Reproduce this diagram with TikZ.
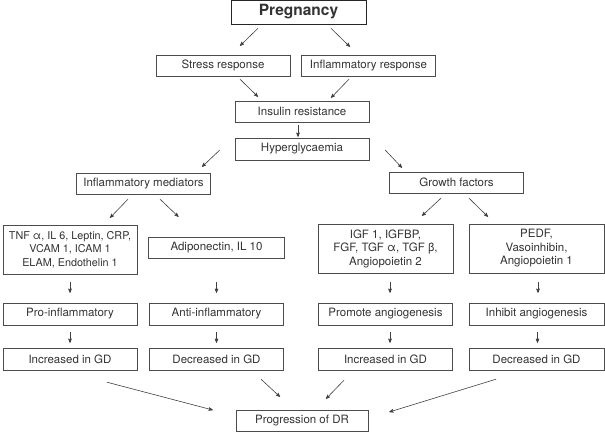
\documentclass[tikz,border=0pt]{standalone}
\usepackage{fontspec}
\setmainfont{TeX Gyre Heros}
\usetikzlibrary{arrows}

\begin{document}
\begin{tikzpicture}[->,>=stealth',semithick,x=1pt,y=-1pt,
                    every node/.style={font=\fontsize{11.5}{13.5}\selectfont,text=black!80},
                    every edge/.style={draw,black!75},
                    box/.style={draw=black!70,thin,inner sep=0pt,align=center,
                                minimum width=134pt,minimum height=21pt},
                    tallbox/.style={box,minimum height=49pt}]
  \useasboundingbox (0,0) rectangle (605,432);

  \path (298.5, 12.0) node [box,draw=black!85,semithick,minimum width=135pt,minimum height=24pt,
                            font=\fontsize{15.5}{18}\selectfont\bfseries] (preg) {Pregnancy}
        (223.0, 65.5) node [box] (stress)   {Stress response}
        (368.5, 65.5) node [box] (inflresp) {Inflammatory response}
        (302.0,111.5) node [box] (insulin)  {Insulin resistance}
        (302.0,149.0) node [box,minimum height=22pt] (hyper) {Hyperglycaemia}
        (143.5,183.5) node [box] (infmed)   {Inflammatory mediators}
        (456.5,182.5) node [box] (growth)   {Growth factors};

  \path ( 70.0,249.5) node [tallbox,font=\fontsize{10.8}{13.5}\selectfont] (tnf)
                           {TNF α, IL 6, Leptin, CRP,\\VCAM 1, ICAM 1\\ELAM, Endothelin 1}
        (216.5,247.5) node [box,minimum width=136pt] (adipo) {Adiponectin, IL 10}
        (385.5,248.5) node [tallbox,minimum width=135pt] (igf)  {IGF 1, IGFBP,\\FGF, TGF α, TGF β,\\Angiopoietin 2}
        (536.5,248.5) node [tallbox,minimum width=135pt] (pedf) {PEDF,\\Vasoinhibin,\\Angiopoietin 1};

  \path ( 70.0,314.0) node [box,minimum height=22pt] (pro)     {Pro-inflammatory}
        (216.5,314.0) node [box,minimum height=22pt] (anti)    {Anti-inflammatory}
        (385.5,314.0) node [box,minimum height=22pt] (promote) {Promote angiogenesis}
        (536.5,314.0) node [box,minimum height=22pt,minimum width=135pt] (inhibit) {Inhibit angiogenesis}
        ( 70.0,359.0) node [box,minimum height=22pt] (inc1) {Increased in GD}
        (216.5,359.0) node [box,minimum height=22pt] (dec1) {Decreased in GD}
        (385.5,359.0) node [box,minimum height=22pt] (inc2) {Increased in GD}
        (536.5,359.0) node [box,minimum height=22pt,minimum width=135pt] (dec2) {Decreased in GD}
        (302.0,420.5) node [box,minimum width=132pt] (prog) {Progression of DR};

  \path ([shift={(-40.5,4)}]preg.south)     edge ([shift={(17,-9)}]stress.north)
        ([shift={(32.5,4)}]preg.south)      edge ([shift={(-18.5,-8)}]inflresp.north)
        ([shift={(17,3)}]stress.south)      edge ([shift={(-44,-4)}]insulin.north)
        ([shift={(-19.5,3)}]inflresp.south) edge ([shift={(29,-3)}]insulin.north)
        ([shift={(-4,3)}]insulin.south)     edge ([shift={(-4,-1)}]hyper.north)
        ([shift={(-15,1)}]hyper.west)       edge ([shift={(58.5,-6)}]infmed.north)
        ([shift={(16,1)}]hyper.east)        edge ([shift={(-54.5,-4)}]growth.north)

        ([shift={(-15.5,5)}]infmed.south)   edge ([shift={(40,-7)}]tnf.north)
        ([shift={(16.5,5)}]infmed.south)    edge ([shift={(-38,-20)}]adipo.north)
        ([shift={(-15.5,5)}]growth.south)   edge ([shift={(36.5,-8)}]igf.north)
        ([shift={(12.5,5)}]growth.south)    edge ([shift={(-48.5,-7)}]pedf.north)

        ([shift={(0,8)}]tnf.south)          edge ([shift={(0,-10)}]pro.north)
        ([shift={(0,24)}]adipo.south)       edge ([shift={(0,-10)}]anti.north)
        ([shift={(4.5,9)}]igf.south)        edge ([shift={(4.5,-10)}]promote.north)
        ([shift={(1.5,9)}]pedf.south)       edge ([shift={(1.5,-10)}]inhibit.north)

        ([shift={(0,7)}]pro.south)          edge ([shift={(0,-5)}]inc1.north)
        ([shift={(0,7)}]anti.south)         edge ([shift={(0,-5)}]dec1.north)
        ([shift={(4.5,7)}]promote.south)    edge ([shift={(4.5,-5)}]inc2.north)
        ([shift={(1,7)}]inhibit.south)      edge ([shift={(1,-5)}]dec2.north)

        ([shift={(37,12)}]inc1.south)       edge ([shift={(-23,-10.5)}]prog.west)
        ([shift={(44.5,9)}]dec1.south)      edge ([shift={(-22,-13)}]prog.north)
        ([shift={(-41.5,10)}]inc2.south)    edge ([shift={(24,-11)}]prog.north)
        ([shift={(-40.5,9)}]dec2.south)     edge ([shift={(21,-8.5)}]prog.east);
\end{tikzpicture}
\end{document}
